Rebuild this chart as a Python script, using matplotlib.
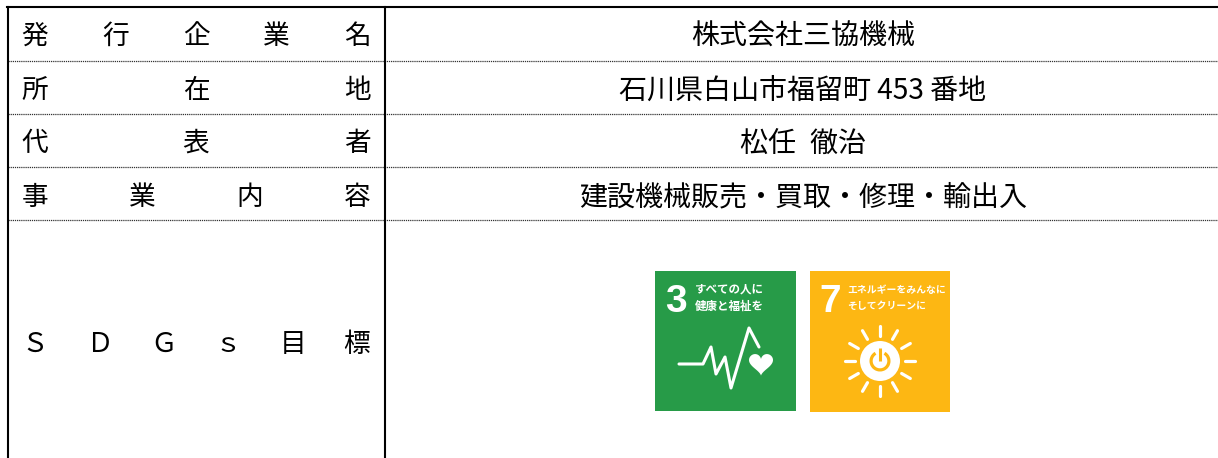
import numpy as np
import matplotlib
matplotlib.use("Agg")
import matplotlib.pyplot as plt
from matplotlib.patches import Rectangle, Circle, Polygon, Wedge

plt.rcParams['font.family'] = ['Noto Sans CJK JP', 'DejaVu Sans']

W, H = 1218, 458
labels = [list("発行企業名"), list("所在地"), list("代表者"), list("事業内容"), list("ＳＤＧｓ目標")]
values = ["株式会社三協機械", "石川県白山市福留町 453 番地", "松任\u2002徹治", "建設機械販売・買取・修理・輸出入", ""]
row_edges = [7, 61, 114, 167, 220]
row_baselines = [44, 98, 151, 205, 352]
tile_title_green = ["すべての人に", "健康と福祉を"]
tile_title_yellow = ["エネルギーをみんなに", "そしてクリーンに"]

fig = plt.figure(figsize=(W / 100, H / 100), dpi=100)
ax = fig.add_axes([0, 0, 1, 1])
ax.set_xlim(0, W)
ax.set_ylim(H, 0)
ax.axis("off")

FS_L, FS_V = 19.2, 20.2
X0, X1, XM = 7.5, 385, 803
for lab, val, yb in zip(labels, values, row_baselines):
    for x, ch in zip(np.linspace(35, 357, len(lab)), lab):
        ax.text(x, yb, ch, fontsize=FS_L, ha="center", va="baseline", color="black")
    if val:
        ax.text(XM, yb + 0.5, val, fontsize=FS_V, ha="center", va="baseline", color="black")

for y in row_edges[1:]:
    ax.plot([X0, W], [y, y], color="#333333", lw=0.9, ls=(0, (1, 0.7)))
ax.plot([X0 - 1, W], [7, 7], color="black", lw=1.5)
ax.plot([X0, X0], [7, H], color="black", lw=1.5)
ax.plot([X1, X1], [7, H], color="black", lw=1.5)

NARROW = ['Liberation Sans Narrow', 'Liberation Sans', 'DejaVu Sans']
GREEN, YELLOW = "#279B48", "#FDB713"

# Green tile
ax.add_patch(Rectangle((655, 271), 141, 140, color=GREEN, lw=0))
ax.text(676, 312, "3", color="white", fontsize=28, fontweight="bold", ha="center", va="baseline", family=NARROW)
for k, t in enumerate(tile_title_green):
    ax.text(695, 289.5 + k * 16.5, t, color="white", fontsize=8.3, fontweight="bold", ha="left", va="center")
ax.plot([679, 703, 711, 716, 725, 731, 749, 759],
        [364, 364, 347, 374, 357, 388, 328, 347],
        color="white", lw=2.2, solid_joinstyle="round", solid_capstyle="round")
heart_t = np.linspace(0, 2 * np.pi, 100)
hx = 16 * np.sin(heart_t) ** 3
hy = 13 * np.cos(heart_t) - 5 * np.cos(2 * heart_t) - 2 * np.cos(3 * heart_t) - np.cos(4 * heart_t)
ax.add_patch(Polygon(np.c_[761 + hx * 0.75, 363 - hy * 0.75], color="white", lw=0))

# Yellow tile
ax.add_patch(Rectangle((810, 271), 140, 141, color=YELLOW, lw=0))
ax.text(830, 312, "7", color="white", fontsize=28, fontweight="bold", ha="center", va="baseline", family=NARROW)
for k, t in enumerate(tile_title_yellow):
    ax.text(847, 289.5 + k * 16.5, t, color="white", fontsize=7.1, fontweight="bold", ha="left", va="center")
cx, cy = 880, 361
for a in np.arange(0, 360, 30):
    r = np.radians(a)
    ax.plot([cx + 25 * np.cos(r), cx + 35 * np.cos(r)],
            [cy + 25 * np.sin(r), cy + 35 * np.sin(r)], color="white", lw=2.3, solid_capstyle="round")
ax.add_patch(Circle((cx, cy), 20, color="white", lw=0))
ax.add_patch(Wedge((cx, cy), 10.5, -60, 240, width=3.2, color=YELLOW, lw=0))
ax.plot([cx, cx], [cy - 14, cy + 1], color="white", lw=4, solid_capstyle="butt")
ax.plot([cx, cx], [cy - 13, cy], color=YELLOW, lw=2.2, solid_capstyle="butt")

fig.savefig("out.png", dpi=100)
